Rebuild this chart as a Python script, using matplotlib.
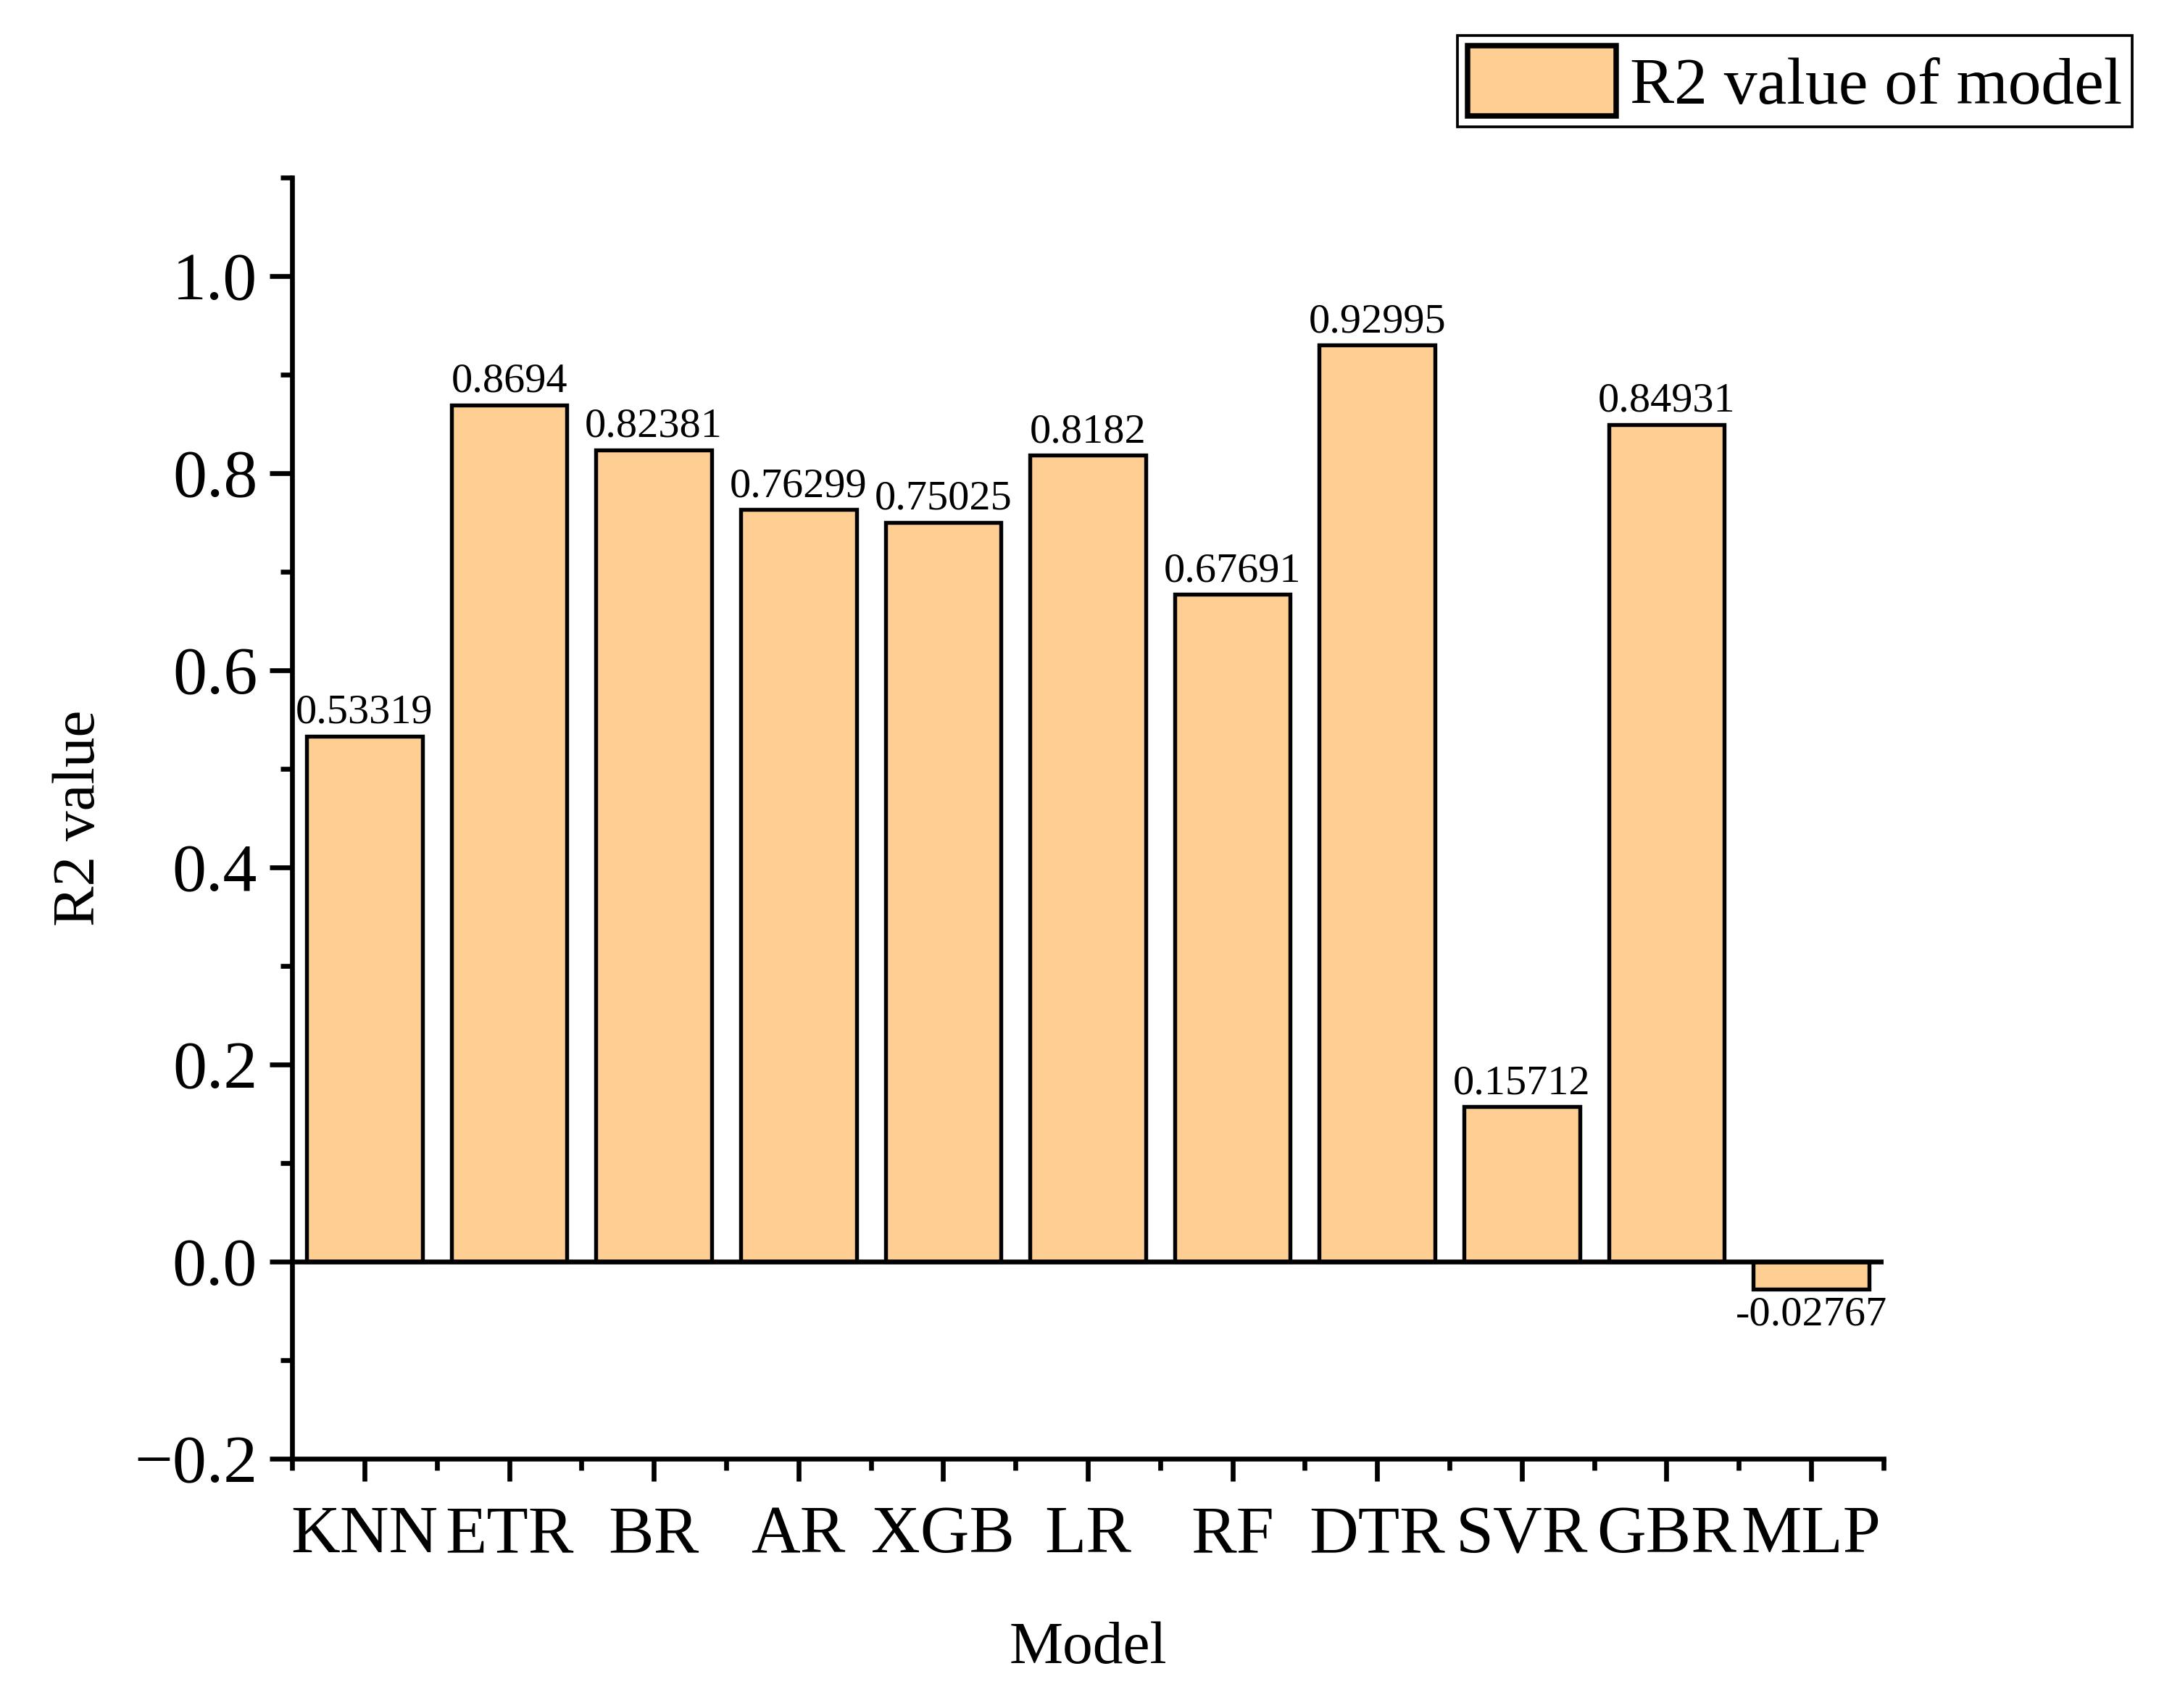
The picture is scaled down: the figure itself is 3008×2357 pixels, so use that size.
import numpy as np
import matplotlib
matplotlib.use("Agg")
import matplotlib.pyplot as plt
from matplotlib.ticker import MultipleLocator, FixedLocator

plt.rcParams['font.family'] = ['Liberation Serif', 'DejaVu Serif']

# 数据
models = ['KNN', 'ETR', 'BR', 'AR', 'XGB', 'LR', 'RF', 'DTR', 'SVR', 'GBR', 'MLP']
r2 = [0.53319, 0.8694, 0.82381, 0.76299, 0.75025, 0.8182, 0.67691, 0.92995, 0.15712, 0.84931, -0.02767]
r2_labels = ['0.53319', '0.8694', '0.82381', '0.76299', '0.75025', '0.8182',
             '0.67691', '0.92995', '0.15712', '0.84931', '-0.02767']

bar_color = '#FFCE93'

fig = plt.figure(figsize=(3008 / 300, 2357 / 300), dpi=300)
ax = fig.add_axes([0.134, 0.146, 0.730, 0.750])

x = np.arange(len(models))
bars = ax.bar(x, r2, width=0.8, color=bar_color, edgecolor='black', linewidth=1.3,
              label='R2 value of model', zorder=2)
ax.axhline(0, color='black', linewidth=1.6, zorder=3)

# 柱子上的数值
for xi, v, s in zip(x, r2, r2_labels):
    if v >= 0:
        ax.annotate(s, (xi, v), xytext=(0, 1.5), textcoords='offset points',
                    ha='center', va='bottom', fontsize=14)
    else:
        ax.annotate(s, (xi, v), xytext=(0, -2.5), textcoords='offset points',
                    ha='center', va='top', fontsize=14)

ax.set_xlim(-0.5, len(models) - 0.5)
ax.set_ylim(-0.2, 1.1)

ax.yaxis.set_major_locator(MultipleLocator(0.2))
ax.yaxis.set_minor_locator(MultipleLocator(0.1))
ax.yaxis.set_major_formatter(plt.FuncFormatter(lambda v, p: ('%.1f' % v).replace('-', '\u2212')))
ax.set_xticks(x)
ax.set_xticklabels(models)
ax.xaxis.set_minor_locator(FixedLocator(np.arange(-0.5, len(models), 1.0)))

ax.spines['top'].set_visible(False)
ax.spines['right'].set_visible(False)
for sp in ['left', 'bottom']:
    ax.spines[sp].set_linewidth(1.6)

ax.tick_params(axis='both', which='major', direction='out', length=7.5, width=1.6, labelsize=22.5)
ax.tick_params(axis='both', which='minor', direction='out', length=3.8, width=1.6)
ax.tick_params(axis='x', which='major', pad=8)
ax.tick_params(axis='y', which='major', pad=4)

ax.set_xlabel('Model', fontsize=20, labelpad=18)
ax.set_ylabel('R2 value', fontsize=20, labelpad=9)

leg = fig.legend(loc='upper right', bbox_to_anchor=(0.978, 0.979), borderaxespad=0,
                 fontsize=22, frameon=True, fancybox=False, edgecolor='black', framealpha=1,
                 handlelength=2.24, handleheight=1.25, borderpad=0.15, handletextpad=0.2)
leg.get_frame().set_linewidth(0.9)
leg.legend_handles[0].set_linewidth(1.8)

fig.savefig('out.png', dpi=300)
